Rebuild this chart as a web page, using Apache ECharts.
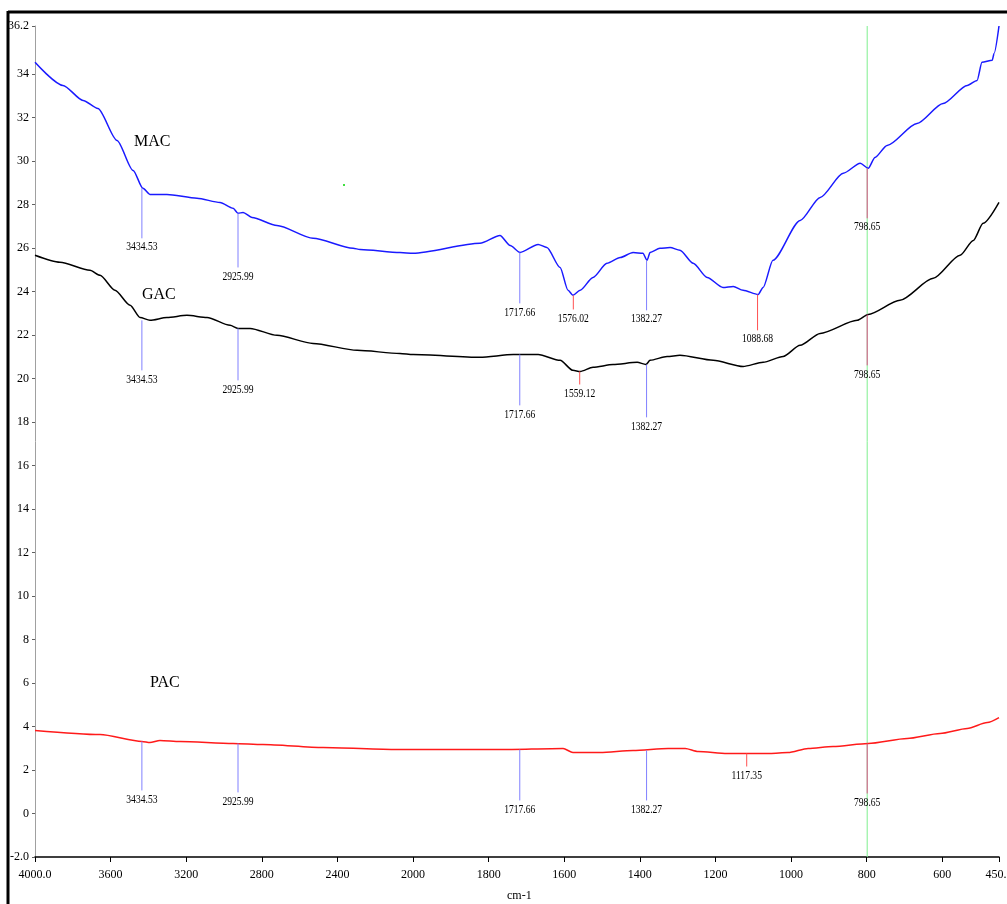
<!DOCTYPE html>
<html>
<head>
<meta charset="utf-8">
<script src="https://cdn.jsdelivr.net/npm/echarts@6/dist/echarts.min.js"></script>
<style>
html,body{margin:0;padding:0;background:#fff;}
#chart{width:1007px;height:904px;}
</style>
</head>
<body>
<div id="chart"></div>
<script>
// ---- data: [wavenumber (cm-1), value] ----
const macData = [
[4000,34.53],[3852,33.47],[3746,32.78],[3667,32.41],[3566,30.94],[3481,29.56],[3429,28.74],[3392,28.46],
[3302,28.46],[3143,28.28],[3021,28.09],[2952,27.82],[2926,27.59],[2899,27.63],[2852,27.40],[2720,27.03],
[2529,26.44],[2317,25.98],[2280,25.93],[2069,25.79],[2000,25.75],[1823,26.21],[1770,26.57],[1743,26.11],
[1717,25.79],[1669,26.16],[1646,26.02],[1611,25.10],[1590,24.05],[1577,23.82],[1558,24.05],[1524,24.64],
[1487,25.29],[1452,25.56],[1418,25.79],[1392,25.75],[1381,25.43],[1373,25.79],[1347,25.98],[1320,26.02],
[1294,25.89],[1259,25.29],[1222,24.64],[1180,24.18],[1153,24.23],[1127,24.05],[1087,23.86],[1074,24.18],
[1048,25.43],[976,27.26],[923,28.32],[862,29.43],[817,29.89],[796,29.66],[778,30.16],[746,30.71],
[667,31.72],[598,32.64],[534,33.47],[508,33.70],[495,34.53],[468,34.62],[463,34.94],[450,36.2]
];
const gacData = [
[4000,25.66],[3868,25.34],[3709,24.97],[3656,24.74],[3577,24.05],[3497,23.36],[3444,22.80],[3392,22.67],
[3302,22.80],[3196,22.90],[3090,22.80],[2968,22.44],[2926,22.30],[2862,22.30],[2720,21.98],[2529,21.61],
[2296,21.29],[2069,21.15],[2000,21.10],[1823,20.97],[1735,21.10],[1669,21.10],[1611,20.83],[1577,20.37],
[1558,20.32],[1524,20.51],[1471,20.64],[1407,20.74],[1384,20.64],[1373,20.83],[1328,21.01],[1294,21.06],
[1206,20.83],[1127,20.55],[1074,20.74],[1021,21.01],[976,21.52],[923,22.07],[825,22.67],[796,22.94],
[712,23.59],[624,24.60],[553,25.66],[518,26.34],[492,27.13],[450,28.09]
];
const pacData = [
[4000,3.82],[3656,3.63],[3434,3.31],[3392,3.26],[3339,3.36],[3233,3.31],[2952,3.22],[2794,3.17],
[2476,3.03],[2085,2.94],[2000,2.94],[1770,2.94],[1603,2.99],[1577,2.80],[1505,2.80],[1418,2.90],
[1325,2.99],[1280,2.99],[1246,2.85],[1169,2.76],[1117,2.76],[1056,2.76],[1008,2.80],[955,2.99],
[889,3.08],[796,3.22],[693,3.45],[606,3.68],[534,3.91],[481,4.18],[450,4.41]
];
// peak markers: [wavenumber, label, curve value, line end value, kind]
const macPeaks = [
[3434.53,'3434.53',28.74,26.44,'b'],[2925.99,'2925.99',27.59,25.10,'b'],[1717.66,'1717.66',25.79,23.45,'b'],
[1576.02,'1576.02',23.82,23.17,'r'],[1382.27,'1382.27',25.43,23.13,'b'],[1088.68,'1088.68',23.86,22.21,'r'],
[798.65,'798.65',29.66,27.36,'p']
];
const gacPeaks = [
[3434.53,'3434.53',22.67,20.37,'b'],[2925.99,'2925.99',22.30,19.91,'b'],[1717.66,'1717.66',21.10,18.76,'b'],
[1559.12,'1559.12',20.32,19.72,'r'],[1382.27,'1382.27',20.64,18.21,'b'],[798.65,'798.65',22.94,20.60,'p']
];
const pacPeaks = [
[3434.53,'3434.53',3.31,1.06,'b'],[2925.99,'2925.99',3.22,0.97,'b'],[1717.66,'1717.66',2.94,0.60,'b'],
[1382.27,'1382.27',2.90,0.60,'b'],[1117.35,'1117.35',2.76,2.16,'r'],[798.65,'798.65',3.22,0.92,'p']
];
const xTicks = [4000,3600,3200,2800,2400,2000,1800,1600,1400,1200,1000,800,600,450];
const yTicks = [-2,0,2,4,6,8,10,12,14,16,18,20,22,24,26,28,30,32,34,36.2];
const cursorWavenumber = 798.65;
const seriesNames = ['MAC','GAC','PAC'];

// ---- FTIR split scale: 4000-2000 compressed (x0.5), 2000-450 linear ----
function tx(w){ return w >= 2000 ? (4000 - w) / 2 : 1000 + (2000 - w); }
function itx(u){ return u <= 1000 ? 4000 - 2 * u : 2000 - (u - 1000); }
const conv = d => d.map(p => [tx(p[0]), p[1]]);

const kindColor = {b:'#8080ff', r:'#ff5050', p:'#e0508c'};
const allPeaks = [].concat(macPeaks, gacPeaks, pacPeaks).map(p => [tx(p[0]), p[2], p[3], p[1], p[4]]);

const chart = echarts.init(document.getElementById('chart'), null, {renderer:'canvas'});
const lblFont = '12px "Liberation Serif", serif';
const Y_MIN = -2, Y_MAX = 36.2;

chart.setOption({
  animation:false,
  backgroundColor:'#fff',
  grid:{left:35, right:8, top:26, bottom:47, containLabel:false, outerBoundsMode:'none'},
  xAxis:{
    type:'value', min:0, max:tx(450), interval:200,
    axisLine:{onZero:false, lineStyle:{color:'#000', width:1.5}},
    axisTick:{length:5, lineStyle:{color:'#000'}, customValues: xTicks.map(tx)},
    axisLabel:{customValues: xTicks.map(tx), color:'#000', margin:12,
      fontFamily:'"Liberation Serif", serif', fontSize:12,
      formatter: v => { const w = Math.round(itx(v)); return (w === 4000 || w === 450) ? w.toFixed(1) : String(w); }},
    splitLine:{show:false}
  },
  yAxis:{
    type:'value', min:Y_MIN, max:Y_MAX, interval:2,
    axisLine:{show:true, onZero:false, lineStyle:{color:'#a0a0a0', width:1}},
    axisTick:{show:true, length:3, lineStyle:{color:'#606060'}, customValues: yTicks},
    axisLabel:{customValues: yTicks, color:'#000', margin:6,
      fontFamily:'"Liberation Serif", serif', fontSize:12,
      formatter: v => (v === -2 ? '-2.0' : (Math.abs(v - 36.2) < 1e-6 ? '36.2' : String(v)))},
    splitLine:{show:false}
  },
  series:[
    {type:'custom', data:[[tx(cursorWavenumber)]], z:2, silent:true,
     renderItem:(params, api) => {
       const a = api.coord([api.value(0), Y_MAX]);
       const b = api.coord([api.value(0), Y_MIN]);
       return {type:'line', shape:{x1:a[0], y1:a[1], x2:b[0], y2:b[1]}, style:{stroke:'#7fef8f', lineWidth:1}};
     }},
    {name:seriesNames[0], type:'line', data:conv(macData), showSymbol:false, smooth:0.25, smoothMonotone:'x',
     lineStyle:{color:'#1a1aff', width:1.5}, z:3},
    {name:seriesNames[1], type:'line', data:conv(gacData), showSymbol:false, smooth:0.25, smoothMonotone:'x',
     lineStyle:{color:'#000', width:1.5}, z:3},
    {name:seriesNames[2], type:'line', data:conv(pacData), showSymbol:false, smooth:0.25, smoothMonotone:'x',
     lineStyle:{color:'#ff1a1a', width:1.5}, z:3},
    {type:'custom', data:allPeaks, z:4, silent:true,
     renderItem:(params, api) => {
       const u = api.value(0);
       const p1 = api.coord([u, api.value(1)]);
       const p2 = api.coord([u, api.value(2)]);
       const d = allPeaks[params.dataIndex];
       return {type:'group', children:[
         {type:'line', shape:{x1:p1[0], y1:p1[1], x2:p2[0], y2:p2[1]}, style:{stroke:kindColor[d[4]], lineWidth:1}},
         {type:'text', x:p2[0], y:p2[1] + 3, scaleX:0.8,
          style:{text:d[3], fill:'#000', font:lblFont, textAlign:'center', textVerticalAlign:'top'}}
       ]};
     }}
  ],
  graphic:[
    {type:'line', shape:{x1:8, y1:12, x2:1007, y2:12}, style:{stroke:'#000', lineWidth:3}},
    {type:'line', shape:{x1:8, y1:11, x2:8, y2:904}, style:{stroke:'#000', lineWidth:3}},
    {type:'text', left:134, top:134, style:{text:'MAC', font:'16px "Liberation Serif", serif', fill:'#000'}},
    {type:'text', left:142, top:287, style:{text:'GAC', font:'16px "Liberation Serif", serif', fill:'#000'}},
    {type:'text', left:150, top:675, style:{text:'PAC', font:'16px "Liberation Serif", serif', fill:'#000'}},
    {type:'text', left:507, top:890, style:{text:'cm-1', font:'12px "Liberation Serif", serif', fill:'#000'}},
    {type:'rect', shape:{x:343, y:184, width:2, height:2}, style:{fill:'#40e040'}}
  ]
});
</script>
</body>
</html>
